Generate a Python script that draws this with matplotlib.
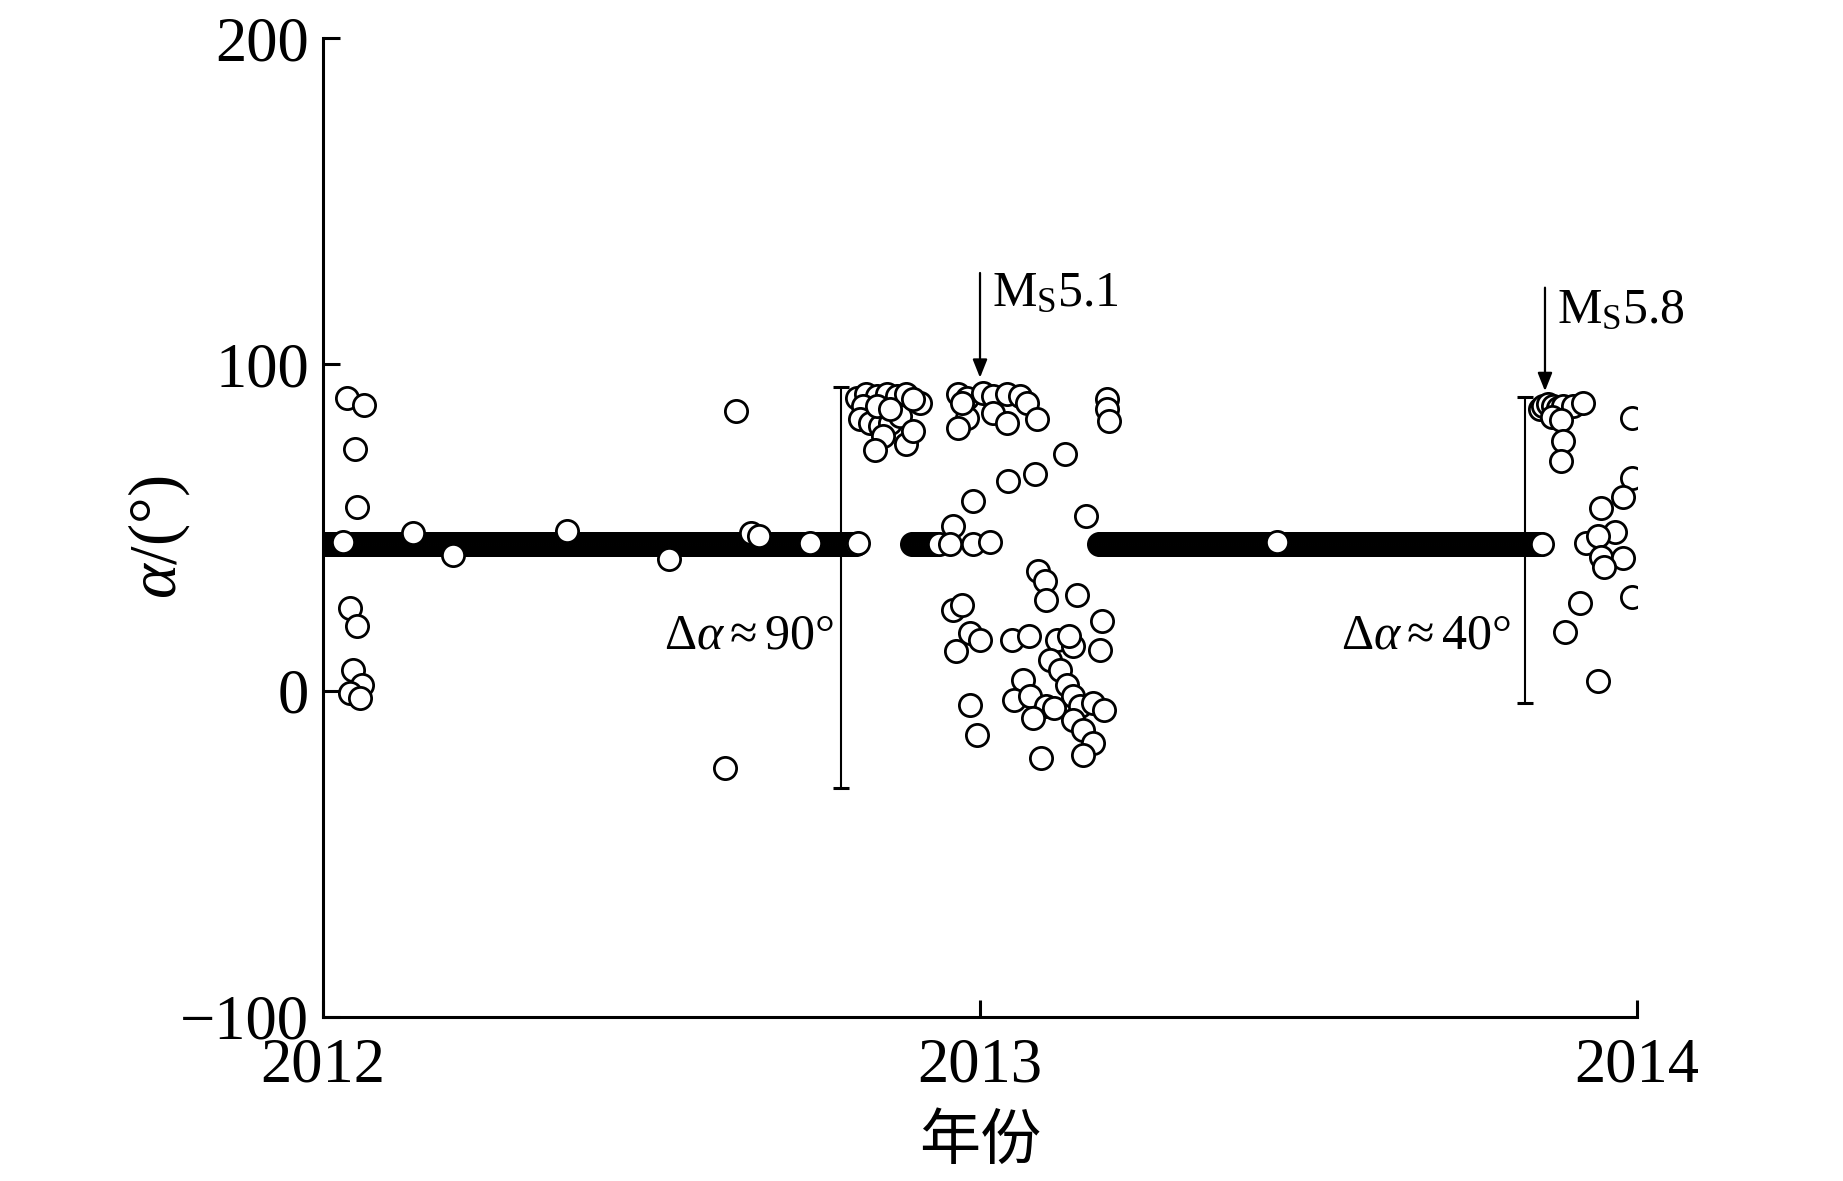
import numpy as np
import pandas as pd
import matplotlib
matplotlib.use("Agg")
import matplotlib.pyplot as plt

plt.rcParams['font.family'] = ['Liberation Serif', 'DejaVu Serif']
plt.rcParams['mathtext.fontset'] = 'custom'
plt.rcParams['mathtext.rm'] = 'Liberation Serif'
plt.rcParams['mathtext.it'] = 'Liberation Serif:italic'

# ------------------------------------------------------------
# data (x in decimal years, alpha in degrees)
# ------------------------------------------------------------
# steady background: daily values sitting at ~45 deg
band_starts = ['2012-01-01', '2012-11-24', '2013-03-08']
band_ends = ['2012-10-24', '2012-12-09', '2013-11-08']
band_level = 45.0

early_x = [2012.030, 2012.036, 2012.062, 2012.049, 2012.052, 2012.041,
           2012.052, 2012.045, 2012.059, 2012.041, 2012.056]
early_y = [45.5, 89.8, 87.4, 74.1, 56.3, 25.4, 19.7, 6.4, 1.8, -0.7, -2.2]

mid2012_x = [2012.137, 2012.198, 2012.371, 2012.526, 2012.612, 2012.629,
             2012.652, 2012.664, 2012.741, 2012.815]
mid2012_y = [48.4, 41.7, 48.9, 40.2, -23.7, 85.7, 48.4, 47.5, 45.3, 45.3]

autumn_x = [2012.812, 2012.827, 2012.843, 2012.858, 2012.873, 2012.888,
            2012.909, 2012.822, 2012.817, 2012.833, 2012.848, 2012.863,
            2012.878, 2012.853, 2012.840, 2012.888, 2012.898, 2012.843,
            2012.863, 2012.898]
autumn_y = [89.7, 90.8, 90.3, 90.8, 90.3, 90.8, 88.2, 87.2, 83.1, 82.1,
            81.1, 82.1, 84.1, 78.0, 73.9, 75.5, 79.6, 87.2, 86.2, 89.3]

quake1_x = [2012.967, 2012.980, 2013.005, 2013.020, 2013.041, 2013.061,
            2013.071, 2012.980, 2012.967, 2013.020, 2013.041, 2013.086,
            2012.972, 2013.193, 2013.193, 2013.196,
            2013.129, 2013.084, 2013.043, 2012.990, 2013.162, 2012.959,
            2012.954, 2012.990, 2013.015,
            2013.089, 2013.099, 2013.101, 2013.148, 2012.959, 2012.972,
            2013.185, 2012.985, 2013.000, 2012.964, 2013.048, 2013.074,
            2013.117, 2013.142, 2013.183, 2013.136, 2013.107, 2013.122,
            2013.066, 2013.132, 2013.051, 2013.076, 2013.101, 2013.081,
            2013.142, 2013.152, 2013.172, 2013.188, 2012.985, 2012.995,
            2013.142, 2013.157, 2013.172, 2013.157, 2013.093, 2013.112]
quake1_y = [90.8, 89.8, 91.3, 90.3, 90.8, 90.3,
            88.2, 83.6, 80.5, 85.1, 82.1, 83.1,
            88.2, 89.3, 86.2, 82.6,
            72.4, 66.3, 64.2, 58.1, 53.5, 50.4,
            44.8, 45.0, 45.5,
            36.6, 33.5, 27.9, 29.4, 24.8, 26.4,
            21.3, 17.7, 15.6, 12.1, 15.6, 16.7,
            15.6, 13.6, 12.6, 16.7, 9.5, 6.4,
            3.4, 1.8, -2.8, -1.7, -4.8, -8.4,
            -1.7, -4.8, -3.8, -5.8, -4.3, -13.5,
            -8.9, -12.0, -16.0, -19.6, -20.7, -5.4]

late2013_x = [2013.452, 2013.852, 2013.857, 2013.865, 2013.872, 2013.880,
              2013.888, 2013.903, 2013.918, 2013.870, 2013.885, 2013.888,
              2013.885, 2013.855,
              2013.993, 2013.993, 2013.979, 2013.945, 2013.966, 2013.922,
              2013.940, 2013.945, 2013.979, 2013.950, 2013.913, 2013.890,
              2013.941, 2013.993]
late2013_y = [45.5, 86.2, 87.2, 87.7, 87.2, 86.5,
              87.2, 87.2, 88.3, 84.0, 83.0, 76.4,
              70.3, 45.0,
              83.6, 65.2, 59.3, 56.0, 48.5, 45.3,
              47.3, 41.0, 40.8, 38.0, 26.8, 18.0,
              2.9, 28.6]

# range bars
range_x = [2012.788, 2013.830]
range_lo = [-29.7, -3.8]
range_hi = [93.2, 89.9]
range_labels = [r'$\Delta\alpha\approx$90°', r'$\Delta\alpha\approx$40°']
range_label_x = [2012.777, 2013.808]

# earthquakes
quake_x = [2013.000, 2013.860]
quake_arrow_top = [128.0, 123.5]
quake_arrow_tip = [95.9, 91.8]
quake_text_y = [118.0, 112.5]
quake_labels = [r'M$_{\mathrm{S}}$5.1', r'M$_{\mathrm{S}}$5.8']

# ------------------------------------------------------------
# build the background band
# ------------------------------------------------------------
band_x = []
for s, e in zip(band_starts, band_ends):
    days = pd.date_range(s, e, freq='D')
    ndays = np.where(days.is_leap_year, 366, 365)
    band_x.append(days.year + (days.dayofyear - 1) / ndays)
band_x = np.concatenate(band_x)
band_y = np.full(len(band_x), band_level)

# ------------------------------------------------------------
# plot
# ------------------------------------------------------------
fig = plt.figure(figsize=(18.43, 11.81), dpi=100)
ax = fig.add_axes([0.1753, 0.1389, 0.8882 - 0.1753, 0.9678 - 0.1389])

mk = dict(marker='o', linestyle='none', ms=16, mfc='white', mec='black', mew=2)
ax.plot(band_x, band_y, **mk)
for xs, ys in [(early_x, early_y), (mid2012_x, mid2012_y), (autumn_x, autumn_y),
               (quake1_x, quake1_y), (late2013_x, late2013_y)]:
    ax.plot(xs, ys, **mk)

# range bars with labels
for x, lo, hi, lab, lx in zip(range_x, range_lo, range_hi, range_labels, range_label_x):
    mid = (lo + hi) / 2
    ax.errorbar([x], [mid], yerr=[[mid - lo], [hi - mid]], fmt='none',
                ecolor='black', elinewidth=1.5, capsize=5.5, capthick=2.2)
    ax.text(lx, 13, lab, ha='right', va='baseline', fontsize=36)

# earthquake arrows
for x, top, tip, ty, lab in zip(quake_x, quake_arrow_top, quake_arrow_tip,
                                quake_text_y, quake_labels):
    ax.annotate('', xy=(x, tip), xytext=(x, top),
                arrowprops=dict(arrowstyle='-|>,head_length=0.55,head_width=0.22',
                                color='black', lw=1.6, mutation_scale=20,
                                shrinkA=0, shrinkB=0))
    ax.text(x + 0.018, ty, lab, ha='left', va='baseline', fontsize=36)

ax.set_xlim(2012, 2014)
ax.set_ylim(-100, 200)
ax.set_xticks([2012, 2013, 2014])
ax.set_xticklabels(['2012', '2013', '2014'])
ax.set_yticks([-100, 0, 100, 200])

for side in ['top', 'right']:
    ax.spines[side].set_visible(False)
for side in ['left', 'bottom']:
    ax.spines[side].set_linewidth(2.2)

ax.tick_params(direction='in', length=12, width=2.2, labelsize=45, pad=10)
ax.tick_params(axis='x', pad=15)

ax.set_ylabel(r'$\alpha$/(°)', fontsize=48, va='center')
ax.yaxis.set_label_coords(-0.125, 0.49)
ax.set_xlabel('年份', fontsize=44, family=['Noto Sans CJK SC', 'DejaVu Sans'], va='top')
ax.xaxis.set_label_coords(0.5, -0.095)

fig.savefig('out.png', dpi=100)
